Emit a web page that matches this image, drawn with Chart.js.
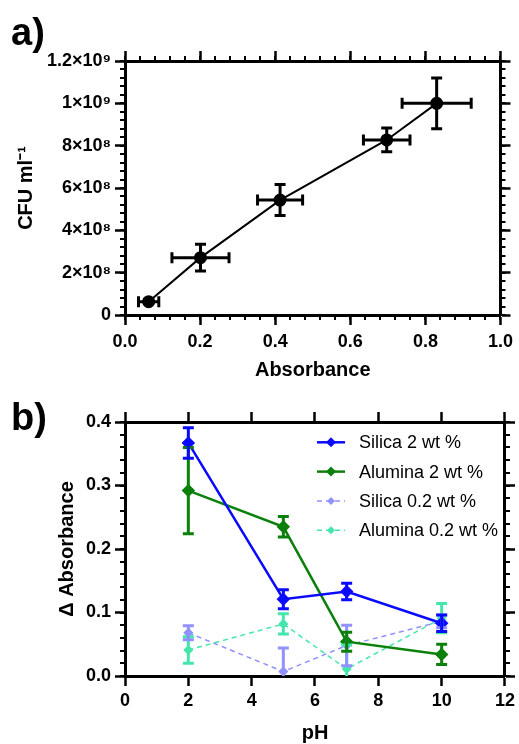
<!DOCTYPE html>
<html>
<head>
<meta charset="utf-8">
<script src="https://cdn.jsdelivr.net/npm/chart.js"></script>
<style>
  body { margin: 0; background: #fff; }
  #wrap { position: relative; width: 519px; height: 744px; font-family: "Liberation Sans", Arial, sans-serif; }
  canvas { position: absolute; left: 0; }
  .tag { position: absolute; left: 11px; font-weight: bold; font-size: 38px; line-height: 38px; }
</style>
</head>
<body>
<div id="wrap">
  <canvas id="c1" width="519" height="380" style="top:0"></canvas>
  <canvas id="c2" width="519" height="364" style="top:380px"></canvas>
  <div class="tag" style="top:13px">a)</div>
  <div class="tag" style="top:398px">b)</div>
</div>
<script>
// a) calibration
const absorbance    = [0.063, 0.201, 0.413, 0.697, 0.830];
const absorbanceErr = [0.027, 0.076, 0.060, 0.062, 0.092];
const cfu           = [6.3e7, 2.71e8, 5.43e8, 8.27e8, 1.0e9];
const cfuErr        = [1.0e7, 6.3e7, 7.3e7, 5.6e7, 1.2e8];

// b) change of absorbance vs pH
const pH = [2, 5, 7, 10];
const seriesNames = ['Silica 2 wt %', 'Alumina 2 wt %', 'Silica 0.2 wt %', 'Alumina 0.2 wt %'];
const silica2      = [0.367, 0.121, 0.133, 0.083];
const silica2Err   = [0.024, 0.015, 0.013, 0.013];
const alumina2     = [0.292, 0.235, 0.054, 0.034];
const alumina2Err  = [0.068, 0.016, 0.015, 0.016];
const silica02     = [0.068, 0.007, 0.048, 0.086];
const silica02Err  = [0.011, 0.037, 0.032, 0.010];
const alumina02    = [0.041, 0.082, 0.011, 0.091];
const alumina02Err = [0.021, 0.016, 0.038, 0.023];

const FONT = '"Liberation Sans", Arial, sans-serif';
Chart.defaults.font.family = FONT;
Chart.defaults.color = '#000';

const sup = { '0':'⁰','1':'¹','2':'²','3':'³','4':'⁴','5':'⁵','6':'⁶','7':'⁷','8':'⁸','9':'⁹' };
function sciLabel(v) {
  if (Math.abs(v) < 1) return '0';
  const e = Math.floor(Math.log10(v) + 1e-9);
  const m = Math.round(v / Math.pow(10, e) * 100) / 100;
  return m + '×10' + String(e).split('').map(c => sup[c]).join('');
}

// draws x and y error bars stored on each dataset
const errorBars = {
  id: 'errorBars',
  afterDatasetsDraw(chart, args, opts) {
    const { ctx, chartArea: a } = chart;
    ctx.save();
    ctx.beginPath();
    ctx.rect(a.left - 2, a.top - 2, a.right - a.left + 4, a.bottom - a.top + 2);
    ctx.clip();
    ctx.lineWidth = opts.width;
    const c = opts.cap;
    for (let i = chart.data.datasets.length - 1; i >= 0; i--) {
      const ds = chart.data.datasets[i];
      const meta = chart.getDatasetMeta(i);
      const xs = chart.scales[meta.xAxisID], ys = chart.scales[meta.yAxisID];
      ctx.strokeStyle = ds.borderColor;
      ctx.beginPath();
      ds.data.forEach((pt, j) => {
        const px = xs.getPixelForValue(pt.x), py = ys.getPixelForValue(pt.y);
        if (ds.errY) {
          const t = ys.getPixelForValue(pt.y + ds.errY[j]);
          const b = ys.getPixelForValue(pt.y - ds.errY[j]);
          ctx.moveTo(px, t); ctx.lineTo(px, b);
          ctx.moveTo(px - c, t); ctx.lineTo(px + c, t);
          ctx.moveTo(px - c, b); ctx.lineTo(px + c, b);
        }
        if (ds.errX) {
          const l = xs.getPixelForValue(pt.x - ds.errX[j]);
          const r = xs.getPixelForValue(pt.x + ds.errX[j]);
          ctx.moveTo(l, py); ctx.lineTo(r, py);
          ctx.moveTo(l, py - c); ctx.lineTo(l, py + c);
          ctx.moveTo(r, py - c); ctx.lineTo(r, py + c);
        }
      });
      ctx.stroke();
    }
    ctx.restore();
  }
};

// short ticks between the major ones, on all four sides
const minorTicks = {
  id: 'minorTicks',
  afterDraw(chart, args, opts) {
    const { ctx, chartArea: a, scales: { x, y } } = chart;
    const L = opts.len;
    ctx.save();
    ctx.strokeStyle = '#000';
    ctx.lineWidth = 2;
    ctx.beginPath();
    if (opts.x) {
      const n = Math.round((x.max - x.min) / opts.x);
      for (let k = 0; k <= n; k++) {
        const p = Math.round(x.getPixelForValue(x.min + k * opts.x));
        ctx.moveTo(p, a.bottom); ctx.lineTo(p, a.bottom + L);
        ctx.moveTo(p, a.top); ctx.lineTo(p, a.top - L);
      }
    }
    if (opts.y) {
      const n = Math.round((y.max - y.min) / opts.y);
      for (let k = 0; k <= n; k++) {
        const p = Math.round(y.getPixelForValue(y.min + k * opts.y));
        ctx.moveTo(a.left, p); ctx.lineTo(a.left - L, p);
        ctx.moveTo(a.right, p); ctx.lineTo(a.right + L, p);
      }
    }
    ctx.stroke();
    ctx.restore();
  }
};

// legend drawn inside the plot area
const insideLegend = {
  id: 'insideLegend',
  afterDraw(chart, args, opts) {
    const { ctx } = chart;
    chart.data.datasets.forEach((ds, i) => {
      const y = opts.top + i * opts.gap;
      const x = opts.left;
      ctx.save();
      ctx.strokeStyle = ds.borderColor;
      ctx.lineWidth = ds.borderWidth;
      ctx.setLineDash(ds.borderDash || []);
      ctx.beginPath(); ctx.moveTo(x, y); ctx.lineTo(x + 28, y); ctx.stroke();
      ctx.setLineDash([]);
      const r = ds.pointRadius;
      ctx.fillStyle = ds.borderColor;
      ctx.beginPath();
      ctx.moveTo(x + 14, y - r); ctx.lineTo(x + 14 + r, y);
      ctx.lineTo(x + 14, y + r); ctx.lineTo(x + 14 - r, y);
      ctx.closePath(); ctx.fill();
      ctx.fillStyle = '#000';
      ctx.font = '18px ' + FONT;
      ctx.textBaseline = 'middle';
      ctx.fillText(ds.label, x + 42, y + 1);
      ctx.restore();
    });
  }
};

function axis(pos, min, max, step, size, extra) {
  const o = {
    type: 'linear', position: pos, min: min, max: max,
    afterFit: s => { if (pos === 'left' || pos === 'right') s.width = size; else s.height = size; },
    grid: { drawOnChartArea: false, drawTicks: true, tickLength: 10, tickWidth: 2.5, tickColor: '#000' },
    border: { display: true, color: '#000', width: 3 },
    ticks: { stepSize: step, display: false }
  };
  return Object.assign(o, extra || {});
}

// ---------- a) ----------
new Chart(document.getElementById('c1'), {
  type: 'scatter',
  data: {
    datasets: [{
      data: absorbance.map((v, i) => ({ x: v, y: cfu[i] })),
      errX: absorbanceErr,
      errY: cfuErr,
      showLine: true,
      borderColor: '#000',
      backgroundColor: '#000',
      borderWidth: 2,
      pointRadius: 5.5,
      pointHoverRadius: 5.5
    }]
  },
  options: {
    responsive: false,
    animation: false,
    layout: { padding: 0 },
    plugins: {
      legend: { display: false },
      tooltip: { enabled: false },
      errorBars: { width: 3, cap: 5.5 },
      minorTicks: { x: 0.04, y: 4e7, len: 5 }
    },
    scales: {
      x: axis('bottom', 0, 1, 0.2, 65, {
        ticks: { stepSize: 0.2, padding: 6, font: { size: 18, weight: 'bold' }, callback: v => v.toFixed(1), maxRotation: 0 },
        title: { display: true, text: 'Absorbance', font: { size: 20, weight: 'bold', lineHeight: 1 }, padding: { top: 0, bottom: 0 } }
      }),
      y: axis('left', 0, 1.2e9, 2e8, 125, {
        ticks: { stepSize: 2e8, padding: 4, font: { size: 18, weight: 'bold' }, callback: v => sciLabel(v) },
        title: { display: true, text: 'CFU ml⁻¹', font: { size: 20, weight: 'bold', lineHeight: 1.2 }, padding: { top: 14, bottom: 0 } }
      }),
      x2: axis('top', 0, 1, 0.2, 61),
      y2: axis('right', 0, 1.2e9, 2e8, 13)
    }
  },
  plugins: [errorBars, minorTicks]
});

// ---------- b) ----------
const bSeries = [
  { name: seriesNames[0], vals: silica2,   err: silica2Err,   color: '#0a0aff', w: 2.5, dash: [],     r: 5 },
  { name: seriesNames[1], vals: alumina2,  err: alumina2Err,  color: '#0b800b', w: 2.5, dash: [],     r: 5 },
  { name: seriesNames[2], vals: silica02,  err: silica02Err,  color: '#9191ff', w: 1.5, dash: [5, 4], r: 4 },
  { name: seriesNames[3], vals: alumina02, err: alumina02Err, color: '#45e6ab', w: 1.5, dash: [5, 4], r: 4 }
];

new Chart(document.getElementById('c2'), {
  type: 'line',
  data: {
    datasets: bSeries.map(s => ({
      label: s.name,
      data: pH.map((p, i) => ({ x: p, y: s.vals[i] })),
      errY: s.err,
      borderColor: s.color,
      backgroundColor: s.color,
      pointBackgroundColor: s.color,
      pointBorderColor: s.color,
      borderWidth: s.w,
      borderDash: s.dash,
      pointStyle: 'rectRot',
      pointRadius: s.r,
      pointHoverRadius: s.r,
      tension: 0,
      fill: false
    }))
  },
  options: {
    responsive: false,
    animation: false,
    layout: { padding: 0 },
    plugins: {
      legend: { display: false },
      tooltip: { enabled: false },
      errorBars: { width: 3, cap: 5.5 },
      minorTicks: { y: 0.02, len: 5 },
      insideLegend: { left: 317, top: 62.3, gap: 29.3 }
    },
    scales: {
      x: axis('bottom', 0, 12, 2, 68, {
        ticks: { stepSize: 2, padding: 4, font: { size: 18, weight: 'bold' }, callback: v => String(v), maxRotation: 0 },
        title: { display: true, text: 'pH', font: { size: 20, weight: 'bold', lineHeight: 1 }, padding: { top: 0, bottom: 1 } }
      }),
      y: axis('left', 0, 0.4, 0.1, 125, {
        ticks: { stepSize: 0.1, padding: 4, font: { size: 18, weight: 'bold' }, callback: v => v.toFixed(1) },
        title: { display: true, text: 'Δ Absorbance', font: { size: 20, weight: 'bold', lineHeight: 1.2 }, padding: { top: 55, bottom: 0 } }
      }),
      x2: axis('top', 0, 12, 2, 42),
      y2: axis('right', 0, 0.4, 0.1, 13)
    }
  },
  plugins: [errorBars, minorTicks, insideLegend]
});
</script>
</body>
</html>
